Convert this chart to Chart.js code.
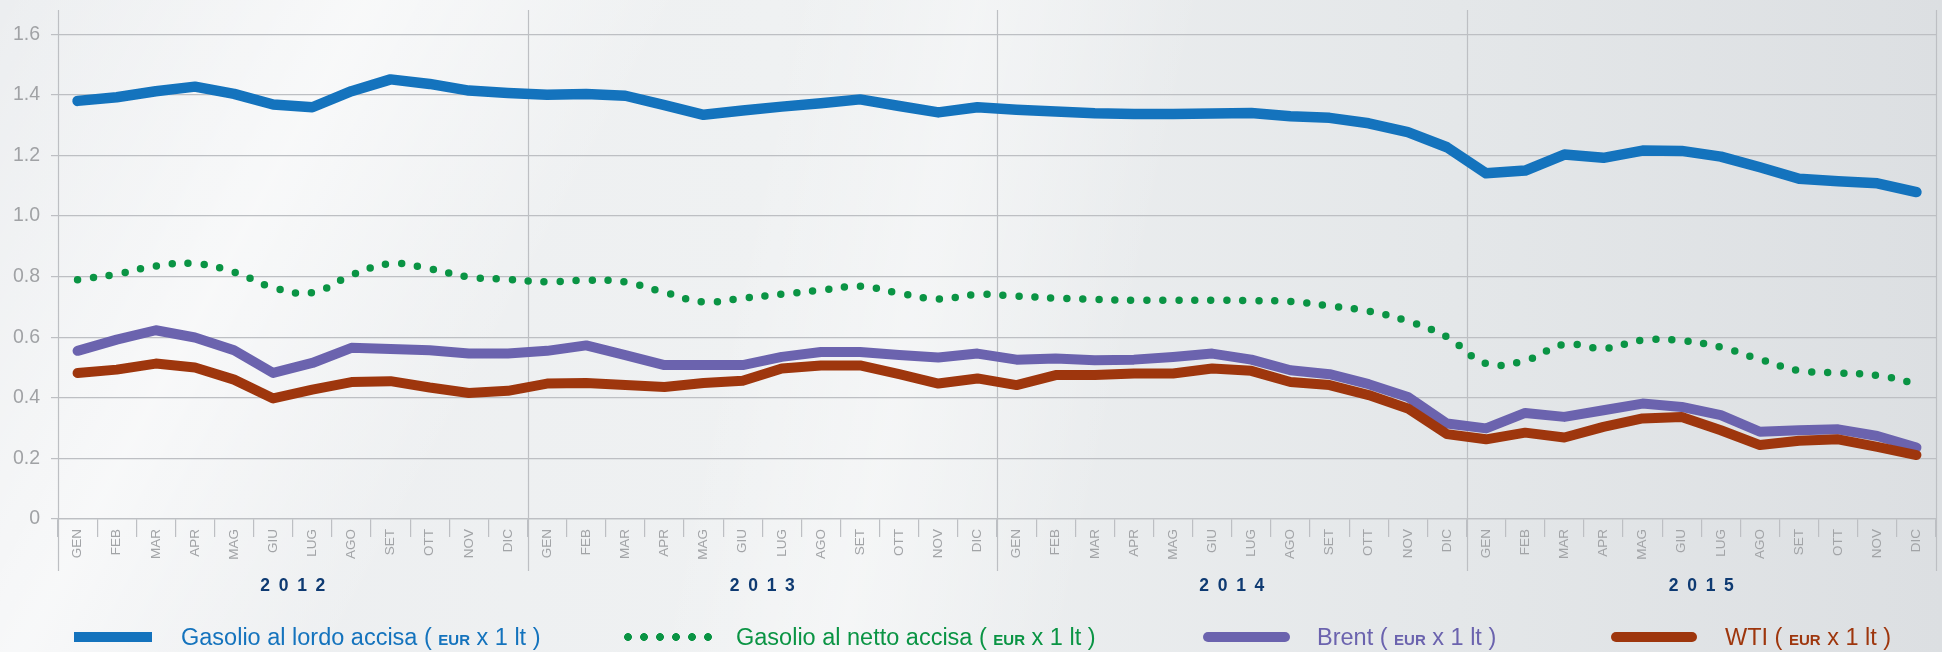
<!DOCTYPE html>
<html>
<head>
<meta charset="utf-8">
<script src="https://cdn.jsdelivr.net/npm/chart.js@4.4.0/dist/chart.umd.min.js"></script>
<style>
  html, body { margin: 0; padding: 0; }
  body {
    width: 1942px; height: 652px; overflow: hidden; position: relative;
    font-family: "Liberation Sans", Arial, sans-serif;
    background:
      linear-gradient(118deg, rgba(255,255,255,0) 0%, rgba(255,255,255,0.6) 16%, rgba(255,255,255,0) 30%),
      linear-gradient(102deg, rgba(255,255,255,0) 38%, rgba(255,255,255,0.4) 47%, rgba(255,255,255,0) 58%),
      linear-gradient(to right, #eceef0 0%, #eff1f2 40%, #e4e7e9 75%, #dcdfe2 100%);
  }
  #fuelChart { position: absolute; left: 0; top: 0; }
  .leg { position: absolute; top: 622px; height: 30px; }
  .swatch { position: absolute; top: 10px; height: 10px; }
  .dots {
    position: absolute; top: 8px; height: 14px;
    background-image: radial-gradient(circle, #0a9444 3.6px, transparent 4.2px);
    background-size: 16px 14px; background-repeat: repeat-x;
  }
  .txt { position: absolute; top: 1px; white-space: nowrap; font-size: 23.5px; line-height: 28px; }
  .txt b { font-size: 15px; font-weight: bold; }
</style>
</head>
<body>
<canvas id="fuelChart" width="1942" height="652"></canvas>
<div id="legend"></div>
<script>
// mesi e anni
const months = ['GEN', 'FEB', 'MAR', 'APR', 'MAG', 'GIU', 'LUG', 'AGO', 'SET', 'OTT', 'NOV', 'DIC'];
const years = ['2012', '2013', '2014', '2015'];
const yTicks = [0, 0.2, 0.4, 0.6, 0.8, 1.0, 1.2, 1.4, 1.6];

// EUR x 1 lt
const gasolioLordo = [
  1.380, 1.392, 1.412, 1.427, 1.403, 1.368, 1.359, 1.412, 1.451, 1.436, 1.414, 1.406,
  1.400, 1.403, 1.397, 1.366, 1.334, 1.348, 1.361, 1.372, 1.385, 1.363, 1.342, 1.359,
  1.351, 1.345, 1.339, 1.337, 1.337, 1.338, 1.340, 1.329, 1.324, 1.306, 1.277, 1.227,
  1.141, 1.150, 1.203, 1.192, 1.216, 1.215, 1.196, 1.161, 1.123, 1.115, 1.108, 1.079
];
const gasolioNetto = [
  0.790, 0.808, 0.835, 0.843, 0.815, 0.764, 0.747, 0.805, 0.843, 0.826, 0.799, 0.791,
  0.783, 0.788, 0.782, 0.748, 0.716, 0.729, 0.742, 0.755, 0.768, 0.745, 0.726, 0.741,
  0.736, 0.729, 0.725, 0.722, 0.722, 0.722, 0.721, 0.718, 0.703, 0.686, 0.653, 0.601,
  0.513, 0.523, 0.576, 0.563, 0.590, 0.589, 0.567, 0.527, 0.490, 0.482, 0.474, 0.447
];
const brent = [
  0.555, 0.592, 0.623, 0.599, 0.557, 0.482, 0.515, 0.565, 0.561, 0.557, 0.546, 0.546,
  0.555, 0.573, 0.541, 0.508, 0.508, 0.508, 0.535, 0.551, 0.551, 0.541, 0.533, 0.546,
  0.526, 0.530, 0.524, 0.526, 0.535, 0.546, 0.526, 0.491, 0.478, 0.445, 0.403, 0.315,
  0.299, 0.350, 0.337, 0.359, 0.381, 0.370, 0.343, 0.288, 0.293, 0.296, 0.274, 0.236
];
const wti = [
  0.482, 0.493, 0.513, 0.500, 0.460, 0.398, 0.427, 0.452, 0.455, 0.434, 0.416, 0.423,
  0.447, 0.449, 0.442, 0.436, 0.449, 0.456, 0.497, 0.507, 0.507, 0.478, 0.447, 0.464,
  0.442, 0.475, 0.475, 0.480, 0.480, 0.497, 0.489, 0.452, 0.442, 0.409, 0.365, 0.280,
  0.263, 0.285, 0.269, 0.304, 0.332, 0.337, 0.293, 0.244, 0.258, 0.263, 0.238, 0.211
];

const labels = years.flatMap(() => months);
const gridColor = '#bdbfc3';

Chart.defaults.font.family = "'Liberation Sans', Arial, sans-serif";

// linee verticali degli anni, prolungate sotto l'asse
const yearLines = {
  id: 'yearLines',
  beforeDatasetsDraw(chart) {
    const { ctx, chartArea } = chart;
    const x = chart.scales.x;
    ctx.save();
    ctx.strokeStyle = gridColor;
    ctx.lineWidth = 1.2;
    for (let i = 0; i <= labels.length; i += months.length) {
      const px = Math.round(x.getPixelForValue(i - 0.5)) + 0.5;
      ctx.beginPath();
      ctx.moveTo(px, chartArea.top);
      ctx.lineTo(px, chartArea.bottom + 52);
      ctx.stroke();
    }
    ctx.restore();
  }
};

const series = [
  { name: 'Gasolio al lordo accisa', data: gasolioLordo, color: '#1473bd', width: 10.5, order: 0 },
  { name: 'Gasolio al netto accisa', data: gasolioNetto, color: '#0a9444', width: 7.5, order: 1, dotted: true },
  { name: 'Brent', data: brent, color: '#6b63ae', width: 10, order: 3 },
  { name: 'WTI', data: wti, color: '#9e360d', width: 10, order: 2 }
];

new Chart(document.getElementById('fuelChart').getContext('2d'), {
  type: 'line',
  data: {
    labels: labels,
    datasets: series.map(s => ({
      label: s.name,
      data: s.data,
      xAxisID: 'x',
      borderColor: s.color,
      backgroundColor: s.color,
      borderWidth: s.width,
      borderCapStyle: 'round',
      borderJoinStyle: 'round',
      borderDash: s.dotted ? [0, 16] : [],
      tension: s.dotted ? 0.4 : 0,
      pointRadius: 0,
      fill: false,
      order: s.order
    }))
  },
  options: {
    responsive: false,
    animation: false,
    layout: { padding: { left: 0, right: 6, top: 10, bottom: 45 } },
    plugins: { legend: { display: false }, tooltip: { enabled: false } },
    scales: {
      x: {
        type: 'category',
        offset: true,
        weight: 0,
        afterFit: s => { s.height = 44; },
        grid: { offset: true, drawOnChartArea: false, drawTicks: true, tickLength: 18, tickColor: gridColor, lineWidth: 1.2 },
        border: { display: true, color: gridColor, width: 1.2 },
        ticks: { autoSkip: false, maxRotation: 90, minRotation: 90, padding: -8, color: '#a2a4a7', font: { size: 13.5 } }
      },
      x2: {
        type: 'category',
        labels: years,
        position: 'bottom',
        offset: true,
        weight: 1,
        afterFit: s => { s.height = 44; },
        grid: { display: false, drawTicks: false },
        border: { display: false },
        ticks: {
          padding: 13,
          color: '#0e3a72',
          font: { size: 17.5, weight: 'bold' },
          callback: (v, i) => years[i].split('').join('\u2002')
        }
      },
      y: {
        min: 0,
        max: 1.68,
        afterFit: s => { s.width = 58; s.paddingTop = 0; },
        afterBuildTicks: s => { s.ticks = yTicks.map(v => ({ value: v })); },
        grid: { color: gridColor, lineWidth: 1.2, tickLength: 7, tickColor: gridColor },
        border: { display: false },
        ticks: {
          padding: 11,
          color: '#a0a2a5',
          font: { size: 19.5 },
          callback: v => v === 0 ? '0' : v.toFixed(1)
        }
      }
    }
  },
  plugins: [yearLines]
});

// legenda in basso
const legendPos = [
  { swatch: 74, sw: 78, text: 181 },
  { swatch: 620, sw: 96, text: 736 },
  { swatch: 1203, sw: 87, text: 1317 },
  { swatch: 1611, sw: 86, text: 1725 }
];
const legend = document.getElementById('legend');
series.forEach((s, i) => {
  const p = legendPos[i];
  const item = document.createElement('div');
  item.className = 'leg';
  item.style.left = '0px';
  let sw;
  if (s.dotted) {
    sw = '<div class="dots" style="left:' + p.swatch + 'px;width:' + p.sw + 'px"></div>';
  } else {
    const radius = i === 0 ? '0' : '5px';
    sw = '<div class="swatch" style="left:' + p.swatch + 'px;width:' + p.sw + 'px;background:' + s.color + ';border-radius:' + radius + '"></div>';
  }
  item.innerHTML = sw + '<span class="txt" style="left:' + p.text + 'px;color:' + s.color + '">' +
    s.name + ' ( <b>EUR</b> x 1 lt )</span>';
  legend.appendChild(item);
});
</script>
</body>
</html>
